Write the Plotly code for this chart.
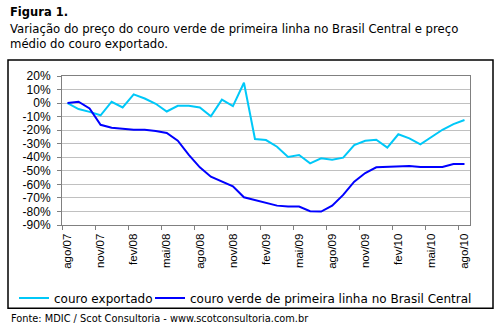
import plotly.graph_objects as go

months = ["ago/07","set/07","out/07","nov/07","dez/07","jan/08","fev/08","mar/08","abr/08",
          "mai/08","jun/08","jul/08","ago/08","set/08","out/08","nov/08","dez/08","jan/09",
          "fev/09","mar/09","abr/09","mai/09","jun/09","jul/09","ago/09","set/09","out/09",
          "nov/09","dez/09","jan/10","fev/10","mar/10","abr/10","mai/10","jun/10","jul/10","ago/10"]

couro_exportado = [0, -4.4, -6.5, -9, 1, -3.2, 6.4, 3.4, -0.5, -6.2, -2, -2, -3.2, -9.8, 2.5,
                   -2.2, 15, -26.5, -27.3, -32.2, -39.8, -38.3, -44.5, -40.8, -41.8, -40.3, -31,
                   -27.8, -27, -32.9, -23, -26, -30.5, -25.3, -19.7, -15.5, -12.5]

couro_verde = [0, 1, -4, -16, -18.2, -18.9, -19.7, -19.7, -20.6, -22.1, -27.8, -38.3, -47.4,
               -54.3, -57.7, -61.4, -69.5, -71.4, -73.8, -75.7, -76.4, -76.4, -79.8, -80.1,
               -75.7, -67.8, -58, -51.6, -47.4, -46.9, -46.4, -46.4, -47.2, -47.2, -47.2, -45, -45]

y_tick_vals = [20, 10, 0, -10, -20, -30, -40, -50, -60, -70, -80, -90]
y_tick_text = ["20%", "10%", "0%", "-10%", "-20%", "-30%", "-40%", "-50%", "-60%", "-70%", "-80%", "-90%"]

W, H = 502, 329
L, R, T, B = 62, 470, 76, 225.5

def px(x):
    return (x - L) / (R - L)

def py(y):
    return (B - y) / (B - T)

fig = go.Figure()
fig.add_trace(go.Scatter(x=months, y=couro_exportado, mode="lines", name="couro exportado",
                         line=dict(color="#00C8F8", width=2), legend="legend"))
fig.add_trace(go.Scatter(x=months, y=couro_verde, mode="lines",
                         name="couro verde de primeira linha no Brasil Central",
                         line=dict(color="#0000FF", width=2), legend="legend2"))

leg_common = dict(orientation="h", xref="container", yref="container",
                  xanchor="left", y=1 - 298 / H, yanchor="middle",
                  font=dict(family="DejaVu Sans", size=12, color="black"),
                  itemwidth=30, bgcolor="rgba(0,0,0,0)", borderwidth=0)

fig.update_layout(
    width=W, height=H,
    margin=dict(l=L, r=W - R, t=T, b=H - B, pad=0),
    paper_bgcolor="white", plot_bgcolor="white",
    showlegend=True,
    legend=dict(x=14 / W, **leg_common),
    legend2=dict(x=150 / W, **leg_common),
    font=dict(family="Liberation Sans", color="black"),
)

fig.update_xaxes(
    type="category", range=[-0.5, len(months) - 0.5],
    tickmode="linear", tick0=0, dtick=3, tickson="boundaries",
    ticks="outside", ticklen=4, tickcolor="#808080", ticklabelstandoff=3,
    tickangle=-90, tickfont=dict(family="Liberation Sans", size=11.5, color="black"),
    showgrid=False, showline=True, linecolor="#808080", linewidth=1, mirror=True,
    fixedrange=True,
)
fig.update_yaxes(
    range=[-90, 20], tickmode="array", tickvals=y_tick_vals, ticktext=y_tick_text,
    ticks="outside", ticklen=4, tickcolor="#808080", ticklabelstandoff=4,
    tickfont=dict(family="Liberation Sans", size=12, color="black"),
    showgrid=True, gridcolor="#C0C0C0", gridwidth=1,
    showline=True, linecolor="#808080", linewidth=1, mirror=True,
    zeroline=False, fixedrange=True,
)

# outer frame around the chart
fig.add_shape(type="rect", xref="paper", yref="paper",
              x0=px(8), x1=px(493), y0=py(309), y1=py(60),
              line=dict(color="black", width=1.5), fillcolor="rgba(0,0,0,0)", layer="below")

fig.add_annotation(xref="paper", yref="paper", x=px(8), y=py(12), xanchor="left", yanchor="middle",
                   text="<b>Figura 1.</b>", showarrow=False,
                   font=dict(family="DejaVu Sans", size=11.5, color="black"))
fig.add_annotation(xref="paper", yref="paper", x=px(8), y=py(36), xanchor="left", yanchor="middle",
                   text="Variação do preço do couro verde de primeira linha no Brasil Central e preço<br>médio do couro exportado.",
                   showarrow=False, align="left",
                   font=dict(family="DejaVu Sans", size=11.7, color="black"))
fig.add_annotation(xref="paper", yref="paper", x=px(9), y=py(319), xanchor="left", yanchor="middle",
                   text="Fonte: MDIC / Scot Consultoria - www.scotconsultoria.com.br", showarrow=False,
                   font=dict(family="DejaVu Sans", size=9.8, color="black"))

fig.write_html("out.html")
